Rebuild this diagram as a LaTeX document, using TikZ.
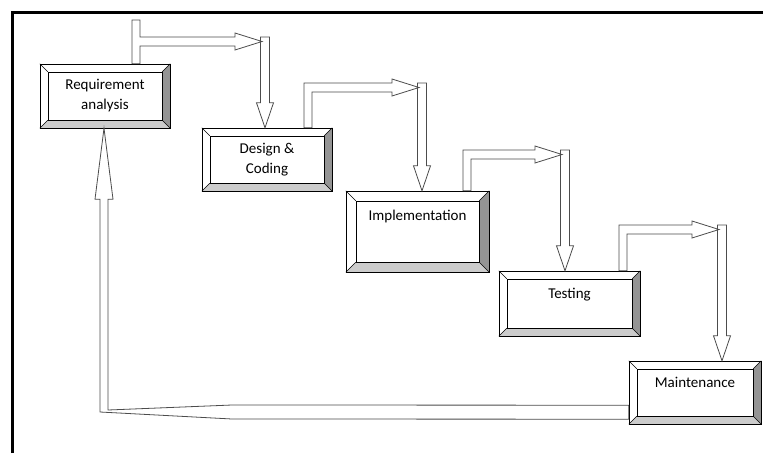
\documentclass[tikz,border=0pt]{standalone}
\usepackage{fontspec}
\setmainfont{Carlito}
\usetikzlibrary{calc}
\tikzset{box/.style={draw,fill=white,align=center,inner sep=0pt,font=\fontsize{15}{20}\selectfont},
  blk/.style={draw=black!70,fill=white,line width=0.8pt,line join=miter},
  bevR/.style={fill=black!42},bevB/.style={fill=black!20}}

\begin{document}
\begin{tikzpicture}[x=1pt,y=-1pt]
          \useasboundingbox (0,0) rectangle (763,453);
          % frame
          \draw[line width=3pt] (12,453) -- (12,12) -- (763,12);

          % the phases
          \node (req) [box,minimum width=130,minimum height=64] at (105,96) {Requirement\\analysis};
          \node (des) [box,minimum width=130,minimum height=63] at (267,159.5) {Design \&\\Coding};
          \node (imp) [box,minimum width=143,minimum height=81] at (417.5,231.5) {Implementation\\[13pt]~};
          \node (tst) [box,minimum width=141,minimum height=65] at (569.5,303.5) {Testing\\~};
          \node (mnt) [box,minimum width=132,minimum height=63] at (695,392.5) {Maintenance\\~};

          % bevels
          \foreach \n/\b in {req/8,des/8,imp/10,tst/8,mnt/8}
          {\coordinate (i1) at ($(\n.north west)+(\b,\b)$);
            \coordinate (i2) at ($(\n.north east)+(-\b,\b)$);
            \coordinate (i3) at ($(\n.south east)+(-\b,-\b)$);
            \coordinate (i4) at ($(\n.south west)+(\b,-\b)$);
            \fill[bevR] (\n.north east) -- (\n.south east) -- (i3) -- (i2) -- cycle;
            \fill[bevB] (\n.south west) -- (\n.south east) -- (i3) -- (i4) -- cycle;
            \draw (\n.north west) -- (i1) (\n.north east) -- (i2) (\n.south east) -- (i3) (\n.south west) -- (i4);
            \draw (i1) rectangle (i3) (\n.north west) rectangle (\n.south east);}

          % arrows down the steps
          \foreach \a/\b/\sx/\sy/\ty/\dx in {req/des/132/20/37/265, des/imp/304/83/83/422, imp/tst/463/150/150/565, tst/mnt/619/225/225/722}
          {\coordinate (s) at (\sx,\sy);
            \coordinate (t) at (\dx,\ty);
            \draw[blk] ($(t)+(-4.5,0)$) -- ($(t |- \b.north)+(-4.5,-25)$) -- ++(-4,0) -- (t |- \b.north)
              -- ($(t |- \b.north)+(8.5,-25)$) -- ++(-4,0) -- ($(t)+(4.5,0)$) -- cycle;
            \draw[blk] (s |- \a.north) -- (s) -- (\sx+8,\sy) -- (\sx+8,\ty) -- (\dx-30,\ty) -- (\dx-30,\ty-4)
              -- (\dx-3,\ty+4.5) -- (\dx-30,\ty+13) -- (\dx-30,\ty+9) -- (\sx+8,\ty+9) -- ($(s |- \a.north)+(8,0)$) -- cycle;}

          % feedback
          \coordinate (k) at (104,412);
          \draw[blk] ($(mnt.south west)+(0,-19)$) -- ($(k)+(128,-7)$) -- ($(k)+(4,-2)$) -- ($(req.south -| k)+(4,71)$) -- ++(5,0)
            -- (req.south -| k) -- ($(req.south -| k)+(-9,71)$) -- ++(5,0) -- ($(k)+(-4,0)$) -- ($(k)+(128,7)$)
            -- ($(mnt.south west)+(0,-5)$) -- cycle;

        \end{tikzpicture}
\end{document}
